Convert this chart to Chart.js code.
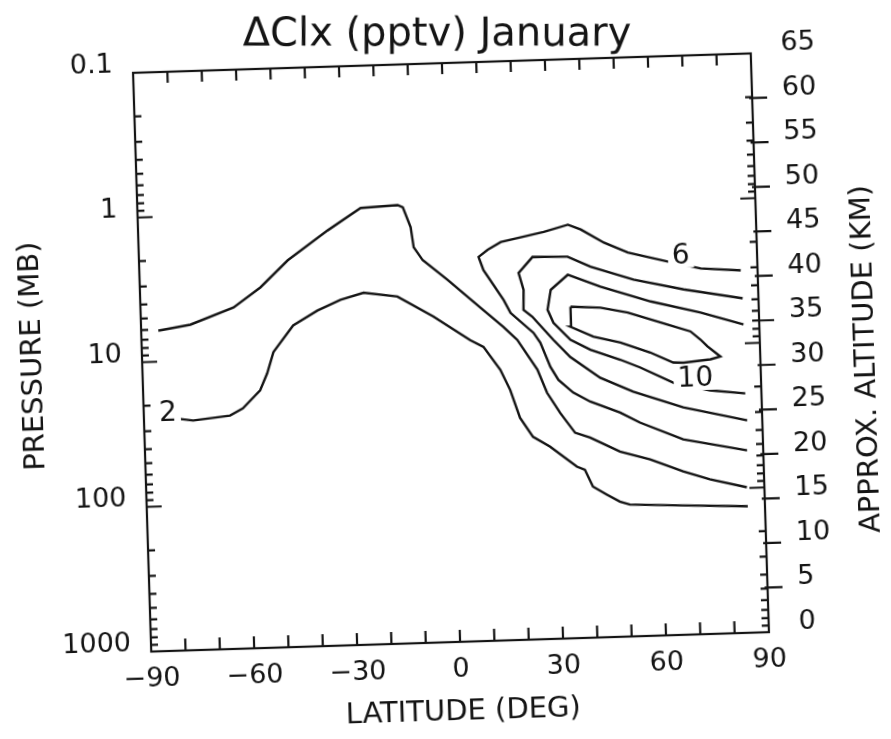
<!DOCTYPE html>
<html>
<head>
<meta charset="utf-8">
<title>ΔClx (pptv) January</title>
<script src="https://cdn.jsdelivr.net/npm/chart.js@4.4.1/dist/chart.umd.min.js"></script>
<style>
  html, body { margin: 0; padding: 0; background: #fff; overflow: hidden; }
  #wrap { width: 891px; height: 739px; }
  /* the scanned figure is tilted a little */
  #chart { transform: rotate(-1.8deg); transform-origin: 451px 352.5px; }
</style>
</head>
<body>
<div id="wrap"><canvas id="chart" width="891" height="739"></canvas></div>
<script>
// axis ticks
const LAT_TICKS = [-90, -60, -30, 0, 30, 60, 90];
const PRESSURE_TICKS = [0.1, 1, 10, 100, 1000];
const PRESSURE_LABELS = ["0.1", "1", "10", "100", "1000"];

// contour lines: latitude (deg) and pressure (mb)
const C2_LAT = [-80.1, -75.7, -64.9, -61.1, -55.9, -53.7, -51.7, -45.7, -38.5, -31.7, -24.9, -15.1, -4.8, 5.7, 9.5, 14.2, 16.9, 19.5, 23.1, 28.0, 35.6, 37.9, 40.1, 44.1, 47.8, 50.7, 66.1, 85.0];
const C2_P = [25, 25.9, 24.4, 21.9, 16.6, 12.7, 9.1, 6.0, 4.8, 4.1, 3.7, 4.0, 5.6, 8.3, 9.3, 13.5, 18.7, 29.2, 39.8, 47, 65.4, 68.9, 90.6, 103.5, 116.4, 122.7, 127.7, 133.7];

const C4_LAT = [-85.0, -75.6, -62.9, -54.9, -46.7, -34.8, -25.0, -14.2, -12.7, -10.6, -9.9, -7.4, -0.3, 9.8, 15.5, 19.4, 25.0, 27.6, 31.2, 35.4, 39.7, 48.3, 57.0, 66.5, 74.2, 84.9];
const C4_P = [6.11, 5.64, 4.39, 3.23, 2.13, 1.35, 0.96, 0.935, 0.97, 1.34, 1.84, 2.27, 3.15, 5.17, 6.83, 8.45, 13.7, 19.9, 27.5, 38.1, 41.5, 52.6, 60.5, 74.4, 85.5, 98.8];

const C6_LAT = [85.1, 73.5, 63.9, 52.4, 45.5, 38.9, 35.2, 28.1, 15.5, 11.6, 8.9, 10.2, 15.8, 17.7, 24.2, 26.1, 28.8, 31.0, 35.2, 40.1, 48.7, 54.4, 66.8, 85.3];
const C6_P = [3.13, 2.98, 2.62, 2.23, 1.88, 1.51, 1.39, 1.54, 1.77, 1.99, 2.22, 2.74, 4.45, 5.49, 7.62, 8.96, 13.2, 16.3, 20.1, 23.4, 28.3, 33.5, 44.7, 54.9];

const C8_LAT = [85.4, 68.3, 53.8, 41.4, 34.8, 24.6, 20.4, 21.7, 21.5, 24.0, 29.9, 34.7, 43.2, 52.7, 67.1, 85.6];
const C8_P = [4.89, 4.12, 3.44, 2.74, 2.31, 2.28, 2.92, 3.83, 5.26, 5.90, 8.60, 11.4, 16.1, 20.4, 26.9, 34.1];

const C10_LAT = [85.4, 73.0, 58.6, 44.1, 34.7, 29.6, 28.5, 30.1, 34.9, 40.6, 49.2, 55.0, 65.0, 75.1, 85.3];
const C10_P = [7.40, 5.99, 4.91, 3.78, 3.08, 3.88, 5.32, 6.56, 8.66, 10.25, 12.2, 13.96, 18.3, 20.8, 22.2];

const C12_LAT = [35.2, 43.9, 51.8, 63.3, 69.9, 72.7, 74.7, 78.4, 75.5, 67.6, 64.6, 58.0, 49.4, 41.6, 35.0, 35.2];
const C12_P = [5.13, 5.28, 5.79, 7.14, 8.06, 9.20, 10.3, 12.2, 12.7, 13.2, 13.1, 11.05, 9.30, 8.35, 7.05, 5.13];

// contour labels: text, latitude, pressure
const LABEL_TEXT = ["2", "6", "10"];
const LABEL_LAT = [-83.0, 67.8, 70.9];
const LABEL_P = [23.0, 2.44, 17.3];

const INK = "#141414";
const FONT = "'DejaVu Sans', sans-serif";
const TILT = 1.8 * Math.PI / 180;

const toPoints = (lats, ps) => lats.map((lat, i) => ({ x: lat, y: ps[i] }));

const contours = [
    [C2_LAT, C2_P],
    [C4_LAT, C4_P],
    [C6_LAT, C6_P],
    [C8_LAT, C8_P],
    [C10_LAT, C10_P],
    [C12_LAT, C12_P],
];

// box, inward ticks, titles and contour labels
const decorations = {
    id: "decorations",
    afterDatasetsDraw(chart) {
        const { ctx, chartArea: a, scales: { x, y, y2 } } = chart;
        ctx.save();

        // contour labels sit on a white patch that cuts the line
        ctx.font = `28px ${FONT}`;
        ctx.textAlign = "center";
        ctx.textBaseline = "middle";
        LABEL_TEXT.forEach((t, i) => {
            const px = x.getPixelForValue(LABEL_LAT[i]);
            const py = y.getPixelForValue(LABEL_P[i]);
            const w = ctx.measureText(t).width;
            ctx.fillStyle = "#fff";
            ctx.fillRect(px - w / 2 - 4, py - 11, w + 8, 22);
            ctx.fillStyle = INK;
            ctx.fillText(t, px, py);
        });

        ctx.strokeStyle = INK;
        ctx.lineWidth = 2.2;
        ctx.strokeRect(a.left, a.top, a.right - a.left, a.bottom - a.top);

        ctx.beginPath();
        for (let lat = -80; lat <= 80; lat += 10) {
            const px = x.getPixelForValue(lat);
            ctx.moveTo(px, a.bottom); ctx.lineTo(px, a.bottom - 12);
            ctx.moveTo(px, a.top); ctx.lineTo(px, a.top + 11);
        }
        for (let d = 0.1; d < 500; d *= 10) {
            for (let m = 1; m < 10; m++) {
                if (d < 0.5 && m === 1) continue;
                const py = y.getPixelForValue(d * m);
                const len = m === 1 ? 15 : 7;
                ctx.moveTo(a.left, py); ctx.lineTo(a.left + len, py);
                ctx.moveTo(a.right, py); ctx.lineTo(a.right - len, py);
            }
        }
        for (let km = 5; km <= 60; km += 5) {
            const py = y2.getPixelForValue(km);
            ctx.moveTo(a.right - 3, py); ctx.lineTo(a.right + 15, py);
        }
        ctx.stroke();

        ctx.fillStyle = INK;
        ctx.textAlign = "center";

        // the title in the scan is level, so undo the tilt for it
        ctx.save();
        ctx.translate(447, 35);
        ctx.rotate(TILT);
        ctx.font = `40px ${FONT}`;
        ctx.textBaseline = "middle";
        ctx.fillText("ΔClx (pptv) January", 0, 0);
        ctx.restore();

        ctx.font = `29px ${FONT}`;
        ctx.textBaseline = "middle";
        ctx.fillText("LATITUDE (DEG)", 452, 712);

        ctx.save();
        ctx.translate(33, 343);
        ctx.rotate(-Math.PI / 2);
        ctx.fillText("PRESSURE (MB)", 0, 0);
        ctx.restore();

        ctx.save();
        ctx.translate(866, 372);
        ctx.rotate(-Math.PI / 2);
        ctx.fillText("APPROX. ALTITUDE (KM)", 0, 0);
        ctx.restore();

        ctx.restore();
    },
};

const tickFont = { family: FONT, size: 27 };

new Chart(document.getElementById("chart"), {
    type: "scatter",
    plugins: [decorations],
    data: {
        datasets: contours.map(([lats, ps]) => ({
            data: toPoints(lats, ps),
            showLine: true,
            borderColor: INK,
            borderWidth: 2.4,
            pointRadius: 0,
            tension: 0,
            fill: false,
        })),
    },
    options: {
        responsive: false,
        animation: false,
        layout: { padding: { top: 63, left: 0, right: 0, bottom: 0 } },
        plugins: {
            legend: { display: false },
            tooltip: { enabled: false },
        },
        scales: {
            x: {
                type: "linear",
                position: "bottom",
                min: -90,
                max: 90,
                afterBuildTicks: (s) => { s.ticks = LAT_TICKS.map((v) => ({ value: v })); },
                afterFit: (s) => { s.height = 97; },
                grid: { display: false, drawTicks: false },
                border: { display: false },
                ticks: {
                    color: INK,
                    font: tickFont,
                    padding: 12,
                    autoSkip: false,
                    maxRotation: 0,
                    callback: (v) => String(v).replace("-", "\u2212"),
                },
            },
            y: {
                type: "logarithmic",
                position: "left",
                min: 0.1,
                max: 1000,
                reverse: true,
                afterBuildTicks: (s) => { s.ticks = PRESSURE_TICKS.map((v) => ({ value: v })); },
                afterFit: (s) => { s.width = 142; },
                grid: { display: false, drawTicks: false },
                border: { display: false },
                ticks: {
                    color: INK,
                    font: tickFont,
                    padding: 20,
                    labelOffset: -8,
                    autoSkip: false,
                    callback: (v, i) => PRESSURE_LABELS[i],
                },
            },
            y2: {
                type: "linear",
                position: "right",
                min: 0,
                max: 65,
                afterFit: (s) => { s.width = 131; },
                grid: { display: false, drawTicks: false },
                border: { display: false },
                ticks: {
                    color: INK,
                    font: tickFont,
                    stepSize: 5,
                    padding: 30,
                    labelOffset: -9,
                    autoSkip: false,
                },
            },
        },
    },
});
</script>
</body>
</html>
